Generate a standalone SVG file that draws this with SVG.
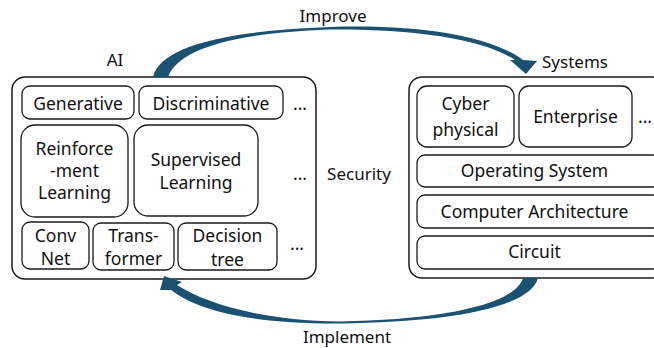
<svg xmlns="http://www.w3.org/2000/svg" width="654" height="348" viewBox="0 0 654 348">
<style>
.bx{fill:#fff;stroke:#1a1a1a;stroke-width:1.3}
.ob{fill:#fff;stroke:#1a1a1a;stroke-width:1.5}
text{font-family:"Noto Sans","Open Sans",sans-serif;font-size:17.5px;fill:#111;text-anchor:middle}
.lb{font-size:17px}
.ar{fill:#1b5272}
</style>
<rect width="654" height="348" fill="#fff"/>
<g id="ai">
<rect class="ob" x="12" y="77" width="304" height="202" rx="13"/>
<text class="lb" x="115" y="66">AI</text>
</g>
<g id="generative"><rect class="bx" x="22" y="86" width="112" height="33" rx="8"/><text x="78" y="110">Generative</text></g>
<g id="discriminative"><rect class="bx" x="139" y="86" width="144" height="33" rx="8"/><text x="211" y="110">Discriminative</text></g>
<g id="dots1"><text x="300" y="110">...</text></g>
<g id="reinforcement"><rect class="bx" x="21" y="125" width="107" height="92" rx="14"/><text x="74.5" y="155">Reinforce</text><text x="74.5" y="177">-ment</text><text x="74.5" y="199">Learning</text></g>
<g id="supervised"><rect class="bx" x="134" y="125" width="124" height="91" rx="14"/><text x="196" y="166">Supervised</text><text x="196" y="189">Learning</text></g>
<g id="dots2"><text x="300" y="180">...</text></g>
<g id="convnet"><rect class="bx" x="22" y="222" width="67" height="47" rx="8"/><text x="55.5" y="242">Conv</text><text x="55.5" y="265">Net</text></g>
<g id="transformer"><rect class="bx" x="93" y="223" width="81" height="47" rx="8"/><text x="133.5" y="242">Trans-</text><text x="133.5" y="265">former</text></g>
<g id="decisiontree"><rect class="bx" x="178" y="223" width="99" height="47" rx="8"/><text x="227.5" y="242">Decision</text><text x="227.5" y="266">tree</text></g>
<g id="dots3"><text x="297" y="250">...</text></g>
<g id="security"><text class="lb" x="359" y="180">Security</text></g>
<g id="systems">
<rect class="ob" x="409" y="77" width="255" height="201" rx="13"/>
<text class="lb" x="575" y="68">Systems</text>
</g>
<g id="cyber"><rect class="bx" x="417" y="86" width="97" height="61" rx="10"/><text x="465.5" y="110">Cyber</text><text x="465.5" y="136">physical</text></g>
<g id="enterprise"><rect class="bx" x="519" y="86" width="113" height="61" rx="10"/><text x="575.5" y="123">Enterprise</text></g>
<g id="dots4"><text x="645" y="123">...</text></g>
<g id="os"><rect class="bx" x="417" y="155" width="244" height="32" rx="8"/><text x="534.5" y="177">Operating System</text></g>
<g id="arch"><rect class="bx" x="417" y="195" width="244" height="33" rx="8"/><text x="534.5" y="218">Computer Architecture</text></g>
<g id="circuit"><rect class="bx" x="417" y="236" width="244" height="33" rx="8"/><text x="534.5" y="258">Circuit</text></g>
<g id="connectors">
<path class="ar" d="M153,77 C160,48 220,31 330,27 C420,24 490,36 523,60 L537,61 L526,74 L510,60 L515,60 C485,40 420,29 330,29.5 C230,33 178,50 168,77 Z"/>
<text class="lb" x="333" y="22">Improve</text>
<path class="ar" d="M538,278 C530,308 450,322 340,323.5 C255,324 200,312 171,290 L160,290 L164,276 L182,282 L177,285 C205,303 260,320.5 340,321.5 C440,320 515,305 523,278 Z"/>
<text class="lb" x="347" y="343">Implement</text>
</g>
</svg>
